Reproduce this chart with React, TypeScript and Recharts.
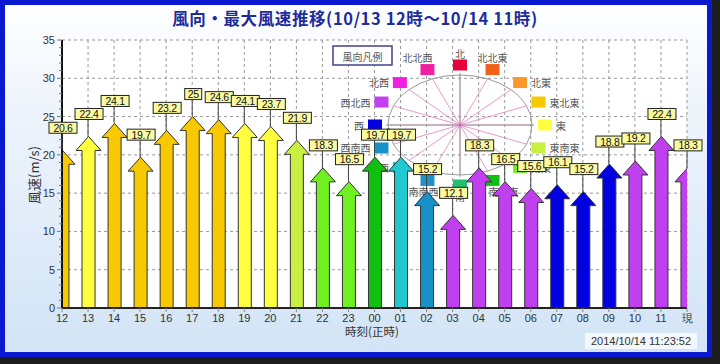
import React from "react";
import {
  ComposedChart,
  Bar,
  Line,
  XAxis,
  YAxis,
  CartesianGrid,
  LabelList,
} from "recharts";

// hourly max wind speed (m/s) and direction, 10/13 12h .. 10/14 11h + current
const HOURS = [
  "12", "13", "14", "15", "16", "17", "18", "19", "20", "21", "22", "23",
  "00", "01", "02", "03", "04", "05", "06", "07", "08", "09", "10", "11", "現",
];
const SPEEDS = [
  20.6, 22.4, 24.1, 19.7, 23.2, 25, 24.6, 24.1, 23.7, 21.9, 18.3, 16.5,
  19.7, 19.7, 15.2, 12.1, 18.3, 16.5, 15.6, 16.1, 15.2, 18.8, 19.2, 22.4, 18.3,
];
const DIRECTIONS = [
  "東北東", "東", "東北東", "東北東", "東北東", "東北東", "東北東", "東", "東",
  "東南東", "南東", "南東", "南南東", "南西", "西南西", "西北西", "西北西",
  "西北西", "西北西", "西", "西", "西", "西北西", "西北西", "西北西",
];

const COMPASS = [
  "北", "北北東", "北東", "東北東", "東", "東南東", "南東", "南南東",
  "南", "南南西", "南西", "西南西", "西", "西北西", "北西", "北北西",
];
const COMPASS_COLORS = [
  "#e8003a", "#f06018", "#f89828", "#f8c800", "#ffff40", "#c8f040",
  "#70f020", "#10c010", "#20c070", "#2090c8", "#20c8d0", "#1890c8",
  "#0000e0", "#c040f0", "#f020e0", "#f020a0",
];

const Y_TICKS = [0, 5, 10, 15, 20, 25, 30, 35];
const Y_MINOR = Array.from({ length: 36 }, (_, i) => i);
const X_TICKS = HOURS.map((_, i) => i);

const data = HOURS.map((h, i) => ({
  i,
  hour: h,
  speed: SPEEDS[i],
  color: COMPASS_COLORS[COMPASS.indexOf(DIRECTIONS[i])],
}));

const FONT = "'Liberation Sans', Arial, sans-serif";
const JP = "'Noto Sans CJK JP', sans-serif";

function Arrow(props: any) {
  const { x, y, width, height, payload } = props;
  if (height == null || height <= 0) return null;
  const cx = x + width / 2;
  const head = 14;
  const half = 12.5;
  const pts = [
    [cx, y],
    [cx + half, y + head],
    [x + width, y + head],
    [x + width, y + height],
    [x, y + height],
    [x, y + head],
    [cx - half, y + head],
  ]
    .map((p) => p.join(","))
    .join(" ");
  return <polygon points={pts} fill={payload.color} stroke="#333" strokeWidth={1} />;
}

function ValueTag(props: any) {
  const { x, y, value } = props;
  if (x == null || y == null) return null;
  const txt = String(value);
  const w = txt.length * 5.5 + 6;
  const cx = x + 1;
  return (
    <g>
      <line x1={x} x2={x} y1={y - 17} y2={y} stroke="#444" strokeWidth={1} />
      <rect x={cx - w / 2} y={y - 28} width={w} height={11} fill="#fafaa0" stroke="#222" strokeWidth={1} />
      <text x={cx} y={y - 22.5} textAnchor="middle" dominantBaseline="central" fontSize={10.5} fontFamily={FONT} fill="#111" letterSpacing={-0.3}>
        {txt}
      </text>
    </g>
  );
}

function YTick(props: any) {
  const { x, y, payload } = props;
  const v = payload.value;
  const major = v % 5 === 0;
  return (
    <g>
      <line x1={x - (major ? 5 : 3)} x2={x} y1={y} y2={y} stroke="#777" strokeWidth={1} />
      {major && (
        <text x={x - 7} y={y} textAnchor="end" dominantBaseline="central" fontSize={11} fontFamily={FONT} fill="#333">
          {v}
        </text>
      )}
    </g>
  );
}

// wind rose legend drawn behind the arrows
function RoseLegend() {
  const CX = 460;
  const CY = 125;
  return (
    <g>
      <rect x={333} y={46} width={59} height={19} fill="#fff" stroke="#404090" strokeWidth={1.5} />
      <text x={362.5} y={56} textAnchor="middle" dominantBaseline="central" fontSize={10} fontFamily={JP} fill="#555">
        風向凡例
      </text>
      {COMPASS.map((_, i) => {
        const a = (i * 22.5 * Math.PI) / 180;
        return (
          <line key={"s" + i} x1={CX} y1={CY} x2={CX + 72 * Math.sin(a)} y2={CY - 50 * Math.cos(a)} stroke="#e080c0" strokeWidth={0.8} />
        );
      })}
      <line x1={CX} x2={CX} y1={CY - 52} y2={CY + 52} stroke="#999" strokeWidth={1} />
      <line x1={CX - 74} x2={CX + 74} y1={CY} y2={CY} stroke="#999" strokeWidth={1} />
      <ellipse cx={CX} cy={CY} rx={72} ry={50} fill="none" stroke="#999" strokeWidth={1} />
      <circle cx={CX} cy={CY} r={1.5} fill="#e060b0" />
      {COMPASS.map((name, i) => {
        const a = (i * 22.5 * Math.PI) / 180;
        const sx = CX + 85 * Math.sin(a);
        const sy = CY - 60 * Math.cos(a);
        let tx = sx;
        let ty = sy;
        let anchor = "middle";
        if (i === 15 || i === 0 || i === 1) {
          ty = sy - 12;
          if (i === 15) tx = sx - 10;
        } else if (i >= 2 && i <= 6) {
          tx = sx + 11;
          anchor = "start";
        } else if (i >= 7 && i <= 9) {
          ty = sy + 11;
          if (i === 7) tx = sx + 11;
          if (i === 9) tx = sx - 4;
        } else {
          tx = sx - 11;
          anchor = "end";
        }
        return (
          <g key={name}>
            <rect x={sx - 7} y={sy - 5.5} width={14} height={11} fill={COMPASS_COLORS[i]} />
            <text x={tx} y={ty} textAnchor={anchor as any} dominantBaseline="central" fontSize={10} fontFamily={JP} fill="#555">
              {name}
            </text>
          </g>
        );
      })}
    </g>
  );
}

export default function App() {
  return (
    <div style={{ position: "absolute", left: 0, top: 0, width: 720, height: 364, background: "#1c1c1c", overflow: "hidden" }}>
      <div
        style={{
          position: "absolute",
          left: 0,
          top: 0,
          width: 702,
          height: 347,
          border: "5px solid #0a18d0",
          background: "linear-gradient(#ffffff 0%, #eef4fc 30%, #d2e4f6 100%)",
        }}
      />
      <div style={{ position: "absolute", left: 0, top: 0 }}>
        <ComposedChart width={720} height={364} data={data} margin={{ top: 40, right: 33, bottom: 26, left: 22 }}>
          <CartesianGrid fill="#fff" stroke="#999" strokeDasharray="3 3" horizontalValues={Y_TICKS} />
          <RoseLegend />
          <XAxis
            dataKey="i"
            type="number"
            domain={[0, 24]}
            ticks={X_TICKS}
            interval={0}
            allowDataOverflow
            tickFormatter={(v: number) => HOURS[v]}
            tick={{ fill: "#333", fontSize: 11, fontFamily: FONT }}
            tickSize={4}
            tickLine={{ stroke: "#888" }}
            axisLine={{ stroke: "#222", strokeWidth: 2 }}
            height={30}
          />
          <XAxis xAxisId="lab" dataKey="i" type="number" domain={[0, 24]} hide />
          <YAxis
            type="number"
            domain={[0, 35]}
            ticks={Y_MINOR}
            interval={0}
            tick={<YTick />}
            tickSize={0}
            tickMargin={0}
            tickLine={false}
            axisLine={{ stroke: "#111", strokeWidth: 2 }}
            width={40}
          />
          <Bar dataKey="speed" barSize={13} shape={<Arrow />} isAnimationActive={false} />
          <Line
            xAxisId="lab"
            dataKey="speed"
            stroke="none"
            dot={false}
            activeDot={false}
            isAnimationActive={false}
          >
            <LabelList dataKey="speed" content={<ValueTag />} />
          </Line>
        </ComposedChart>
      </div>
      <div
        style={{
          position: "absolute",
          left: 0,
          width: 710,
          top: 6,
          textAlign: "center",
          fontFamily: JP,
          fontSize: 16.5,
          fontWeight: 700,
          letterSpacing: 0.6,
          color: "#1c2c9c",
          whiteSpace: "nowrap",
        }}
      >
        風向・最大風速推移(10/13 12時～10/14 11時)
      </div>
      <div
        style={{
          position: "absolute",
          left: 33,
          top: 175,
          transform: "translate(-50%, -50%) rotate(-90deg)",
          fontFamily: JP,
          fontSize: 13,
          color: "#333",
          whiteSpace: "nowrap",
        }}
      >
        風速(m/s)
      </div>
      <div style={{ position: "absolute", left: 345, top: 324, fontFamily: JP, fontSize: 11.5, lineHeight: "14px", color: "#333", whiteSpace: "nowrap" }}>
        時刻(正時)
      </div>
      <div
        style={{
          position: "absolute",
          left: 585,
          top: 333,
          width: 112,
          height: 16,
          lineHeight: "16px",
          background: "#f4f8fc",
          textAlign: "center",
          fontFamily: FONT,
          fontSize: 11,
          color: "#333",
        }}
      >
        2014/10/14 11:23:52
      </div>
    </div>
  );
}
